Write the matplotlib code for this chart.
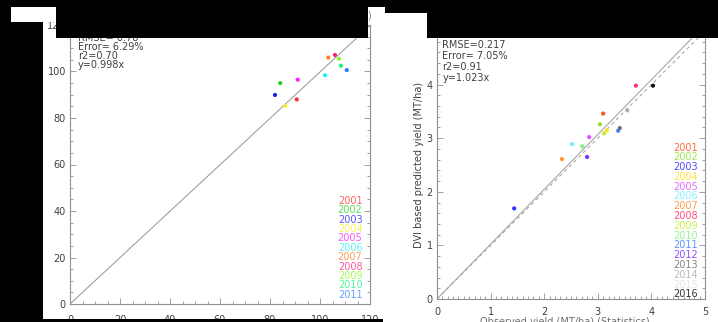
import matplotlib
matplotlib.use('Agg')
import matplotlib.pyplot as plt
from matplotlib.patches import Rectangle
from matplotlib.ticker import MultipleLocator

# left panel: observed vs predicted (2001-2011)
years_l = ['2001', '2002', '2003', '2004', '2005', '2006', '2007', '2008', '2009', '2010', '2011']
obs_l = [90.7, 84.1, 82.0, 86.0, 91.1, 102.0, 103.3, 106.0, 107.6, 108.4, 110.7]
pred_l = [88.0, 95.0, 89.9, 85.2, 96.5, 98.4, 106.0, 107.1, 105.5, 102.5, 100.6]
colors_l = ['#ff3030', '#20d020', '#2020ff', '#f0f020', '#ff20ff', '#20f0f0',
            '#ff8020', '#ff2080', '#80ff20', '#20f080', '#3080ff']
stats_l = ['RMSE= 0.78', 'Error= 6.29%', 'r2=0.70', 'y=0.998x']
slope_l = 0.998

# right panel: DVI based predicted yield (2001-2016)
years_r = ['2001', '2002', '2003', '2004', '2005', '2006', '2007', '2008',
           '2009', '2010', '2011', '2012', '2013', '2014', '2015', '2016']
obs_r = [3.10, 3.04, 1.44, 3.17, 2.84, 2.52, 2.33, 3.71, 3.12, 2.71, 3.38, 2.80, 3.41, 3.55, None, 4.03]
pred_r = [3.46, 3.26, 1.69, 3.15, 3.02, 2.89, 2.61, 3.98, 3.09, 2.85, 3.14, 2.65, 3.19, 3.52, None, 3.98]
colors_r = ['#ff5020', '#90e030', '#3030ff', '#ffe020', '#e050ff', '#70f0ff', '#ff9030', '#ff3070',
            '#c0f030', '#80f080', '#4080ff', '#8030ff', '#707070', '#b0b0b0', '#e0e0e0', '#101010']
stats_r = ['RMSE=0.217', 'Error= 7.05%', 'r2=0.91', 'y=1.023x']
slope_r = 1.023

W, H = 718, 322
fig = plt.figure(figsize=(W / 100, H / 100), dpi=100)
txt = '#404040'

def box(x0, y0, x1, y1):
    # pixel box (top-left origin) -> figure fraction
    return [x0 / W, 1 - y1 / H, (x1 - x0) / W, (y1 - y0) / H]

def style(ax, major_x, minor_x, major_y, minor_y, xpad):
    for s in ax.spines.values():
        s.set_color('#909090')
        s.set_linewidth(0.8)
    ax.xaxis.set_major_locator(MultipleLocator(major_x))
    ax.xaxis.set_minor_locator(MultipleLocator(minor_x))
    ax.yaxis.set_major_locator(MultipleLocator(major_y))
    ax.yaxis.set_minor_locator(MultipleLocator(minor_y))
    ax.tick_params(which='both', direction='in', top=True, right=True, color='#909090',
                   labelsize=7, labelcolor=txt, width=0.6)
    ax.tick_params(which='major', length=4)
    ax.tick_params(which='minor', length=2)
    ax.tick_params(axis='x', pad=xpad)
    ax.tick_params(axis='y', pad=3)

# ---- left panel
ax1 = fig.add_axes(box(70, 25, 370, 304))
ax1.set_xlim(0, 120)
ax1.set_ylim(0, 120)
style(ax1, 20, 5, 20, 5, 8)
ax1.plot([0, 120], [0, 120 * slope_l], color='#a0a0a0', lw=0.8)
ax1.scatter(obs_l, pred_l, c=colors_l, s=9, zorder=3, linewidths=0)
for i, t in enumerate(stats_l):
    ax1.text(0.027, 0.972 - i * 0.033, t, transform=ax1.transAxes, fontsize=7, color=txt, va='top')
for i, (yr, c) in enumerate(zip(years_l, colors_l)):
    ax1.text(0.975, 0.37 - i * 0.0337, yr, transform=ax1.transAxes, fontsize=7,
             color=c, alpha=0.75, ha='right', va='center')

# ---- right panel
ax2 = fig.add_axes(box(437, 31, 705, 299))
ax2.set_xlim(0, 5)
ax2.set_ylim(0, 5)
style(ax2, 1, 0.1, 1, 0.2, 6)
ax2.plot([0, 5], [0, 5 * slope_r], color='#a8a8a8', lw=0.8)
ax2.plot([0, 5], [0, 5], color='#a8a8a8', lw=0.8, ls=(0, (3, 3)))
pts = [(o, p, c) for o, p, c in zip(obs_r, pred_r, colors_r) if o is not None]
ax2.scatter([p[0] for p in pts], [p[1] for p in pts], c=[p[2] for p in pts], s=9, zorder=3, linewidths=0)
for i, t in enumerate(stats_r):
    ax2.text(0.02, 0.966 - i * 0.041, t, transform=ax2.transAxes, fontsize=7, color=txt, va='top')
for i, (yr, c) in enumerate(zip(years_r, colors_r)):
    ax2.text(0.975, 0.565 - i * 0.0365, yr, transform=ax2.transAxes, fontsize=7,
             color=c, alpha=0.85, ha='right', va='center')
ax2.set_ylabel('DVI based predicted yield (MT/ha)', fontsize=7, color=txt, labelpad=2)
fig.text(565 / W, 1 - 317 / H, 'Observed yield (MT/ha) (Statistics)', fontsize=7,
         color='#707070', ha='center', va='top')
fig.text(369 / W, 1 - 15 / H, ')', fontsize=7, color='#808080', ha='center', va='center')

# ---- black cover boxes over the screenshot
for b, col in [((0, 0, 43, 322), 'black'), ((0, 0, 718, 7), 'black'),
               ((56, 0, 368, 38), 'black'), ((385, 0, 427, 13), 'black'),
               ((427, 0, 718, 38), 'black'), ((0, 319, 383, 322), 'black'),
               ((11, 7, 56, 22), 'white')]:
    x, y, w, h = box(*b)
    fig.patches.append(Rectangle((x, y), w, h, transform=fig.transFigure,
                                 facecolor=col, edgecolor='none', zorder=5))

fig.savefig('out.png', dpi=100)
